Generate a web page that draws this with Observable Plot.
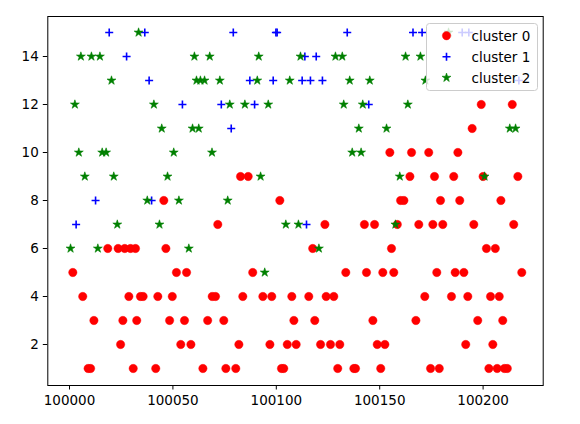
<!DOCTYPE html>
<html><head><meta charset="utf-8">
<script src="https://cdn.jsdelivr.net/npm/d3@7"></script>
<script src="https://cdn.jsdelivr.net/npm/@observablehq/plot@0.6"></script>
<style>
body{margin:0;background:#fff;}
#wrap{position:relative;width:580px;height:424px;font-family:"DejaVu Sans",sans-serif;}
#legend{position:absolute;left:426px;top:23px;}
</style></head><body><div id="wrap"></div>
<script>
// cluster 0 (red circles)
const c0x = [
  100199.1,100214.1,
  100194.7,
  100154.9,100165.4,100173.7,100187.8,
  100082.7,100086.4,100164.6,100176.5,100185.8,100200.0,100216.8,
  100045.6,100101.7,100160.1,100161.7,100179.4,100188.7,100208.6,
  100071.7,100123.5,100142.6,100147.5,100158.5,100168.9,100175.7,100180.5,100195.5,100214.8,
  100018.5,100023.5,100026.7,100029.5,100031.9,100046.6,100117.6,100155.7,100201.6,100205.9,
  100001.6,100051.7,100056.6,100088.6,100133.6,100143.6,100151.5,100156.8,100177.6,100186.5,100190.7,100218.7,
  100006.4,100028.7,100034.3,100035.6,100042.7,100049.7,100069.0,100070.6,100083.8,100093.5,100097.8,100107.5,100115.7,100124.1,100127.8,100171.8,100184.7,100192.6,100203.6,100207.8,
  100011.8,100025.8,100032.5,100048.4,100055.6,100066.8,100074.6,100108.5,100118.6,100146.7,100167.5,100197.4,100209.5,
  100024.7,100053.8,100058.7,100081.9,100096.9,100105.3,100109.6,100121.4,100126.2,100130.7,100148.8,100152.5,100191.6,100204.7,
  100009.0,100010.2,100030.8,100041.7,100064.5,100075.6,100080.4,100102.5,100103.6,100129.7,100137.5,100138.3,100150.5,100174.6,100178.8,100202.8,100206.8,100210.3,100211.7
];
const c0y = [
  12,12,
  11,
  10,10,10,10,
  9,9,9,9,9,9,9,
  8,8,8,8,8,8,8,
  7,7,7,7,7,7,7,7,7,7,
  6,6,6,6,6,6,6,6,6,6,
  5,5,5,5,5,5,5,5,5,5,5,5,
  4,4,4,4,4,4,4,4,4,4,4,4,4,4,4,4,4,4,4,4,
  3,3,3,3,3,3,3,3,3,3,3,3,3,
  2,2,2,2,2,2,2,2,2,2,2,2,2,2,
  1,1,1,1,1,1,1,1,1,1,1,1,1,1,1,1,1,1,1
];
// cluster 1 (blue plus)
const c1x = [
  100019.2,100036.4,100079.2,100099.8,100100.4,100134.3,100166.1,100170.5,100189.9,100193.1,
  100027.6,100113.8,100119.3,
  100038.5,100087.2,100098.5,100112.5,100116.5,100122.3,100217.3,
  100054.6,100073.4,100089.5,100144.7,
  100078.2,
  100012.6,100039.7,
  100003.2,100114.6
];
const c1y = [
  15,15,15,15,15,15,15,15,15,15,
  14,14,14,
  13,13,13,13,13,13,13,
  12,12,12,12,
  11,
  8,8,
  7,7
];
// cluster 2 (green stars)
const c2x = [
  100033.4,100183.3,
  100005.5,100010.6,100014.7,100060.4,100067.8,100091.5,100111.7,100128.6,100131.9,100162.5,100169.7,
  100020.3,100061.4,100063.3,100065.3,100072.7,100090.8,100106.5,100135.5,100145.2,100172.1,
  100002.6,100040.8,100077.5,100084.8,100096.1,100132.6,100141.8,100163.6,
  100044.6,100059.5,100062.5,100139.9,100153.3,100212.9,100215.7,
  100004.5,100015.8,100017.7,100050.4,100068.9,100136.7,100141.0,
  100007.4,100021.4,100047.4,100092.4,100159.7,100200.7,
  100037.6,100052.9,100076.5,
  100023.1,100043.5,100104.6,100110.7,100157.6,
  100000.5,100013.7,100057.7,100120.6,
  100094.4
];
const c2y = [
  15,15,
  14,14,14,14,14,14,14,14,14,14,14,
  13,13,13,13,13,13,13,13,13,13,
  12,12,12,12,12,12,12,12,
  11,11,11,11,11,11,11,
  10,10,10,10,10,10,10,
  9,9,9,9,9,9,
  8,8,8,
  7,7,7,7,7,
  6,6,6,6,
  5
];
const xTicks = [100000, 100050, 100100, 100150, 100200];
const yTicks = [2, 4, 6, 8, 10, 12, 14];
const seriesNames = ["cluster 0", "cluster 1", "cluster 2"];
const seriesColors = ["#ff0000", "#0000ff", "#008000"];

const toRows = (xs, ys) => xs.map((x, i) => ({x, y: ys[i]}));
const d0 = toRows(c0x, c0y), d1 = toRows(c1x, c1y), d2 = toRows(c2x, c2y);

const plot = Plot.plot({
  width: 580, height: 424,
  marginLeft: 47.3, marginRight: 37.3, marginTop: 16, marginBottom: 39,
  style: {fontFamily: "DejaVu Sans, sans-serif", fontSize: "13.5px", color: "#000", background: "#fff", overflow: "visible"},
  x: {domain: [99989.5, 100229.06], ticks: xTicks, tickFormat: d => String(d), tickSize: 4.5, tickPadding: 5, label: null},
  y: {domain: [1 - 17/24, 15 + 16/24], ticks: yTicks, tickSize: 4.5, tickPadding: 4.5, label: null},
  marks: [
    Plot.dot(d0, {x: "x", y: "y", r: 4.2, fill: seriesColors[0], stroke: seriesColors[0], strokeWidth: 0.4}),
    Plot.dot(d1, {x: "x", y: "y", symbol: "plus", r: 2.7, fill: "none", stroke: seriesColors[1], strokeWidth: 1.6}),
    Plot.dot(d2, {x: "x", y: "y", symbol: "star", r: 2.8, fill: seriesColors[2], stroke: seriesColors[2], strokeWidth: 0.6}),
    Plot.frame({stroke: "#000", strokeWidth: 1})
  ]
});
const wrap = document.getElementById("wrap");
wrap.appendChild(plot);

// legend
const lw = 111, lh = 67;
const leg = d3.select(wrap).append("svg").attr("id", "legend").attr("width", lw + 1).attr("height", lh + 1);
leg.append("rect").attr("x", 0.5).attr("y", 0.5).attr("width", lw).attr("height", lh).attr("rx", 3)
  .attr("fill", "rgba(255,255,255,0.8)").attr("stroke", "#cccccc").attr("stroke-width", 1);
const syms = [d3.symbolCircle, d3.symbolPlus, d3.symbolStar];
const sizes = [Math.PI * 4.2 * 4.2, Math.PI * 2.7 * 2.7, Math.PI * 2.8 * 2.8];
seriesNames.forEach((name, i) => {
  const cy = 12.7 + i * 21;
  const p = leg.append("path").attr("transform", `translate(20.5,${cy})`).attr("d", d3.symbol(syms[i], sizes[i])());
  if (i === 1) p.attr("fill", "none").attr("stroke", seriesColors[1]).attr("stroke-width", 1.6);
  else p.attr("fill", seriesColors[i]).attr("stroke", seriesColors[i]).attr("stroke-width", i === 0 ? 0.4 : 0.6);
  leg.append("text").attr("x", 45.5).attr("y", cy).attr("dy", "0.36em")
    .attr("font-family", "DejaVu Sans, sans-serif").attr("font-size", "13.5px").attr("fill", "#000").text(name);
});
</script></body></html>
